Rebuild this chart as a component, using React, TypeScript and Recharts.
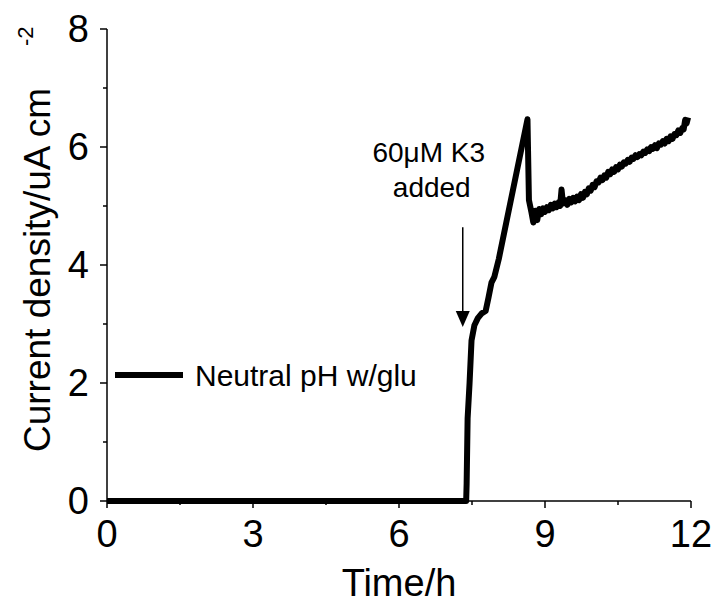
import React from 'react';
import { LineChart, Line, XAxis, YAxis, Legend, ReferenceLine } from 'recharts';

const FONT = '"Liberation Sans", Arial, sans-serif';

// time in hours
const times = [
  0, 7.38, 7.39, 7.41, 7.45, 7.49, 7.55, 7.62, 7.7, 7.78, 7.84, 7.9, 7.96, 8.05, 8.64, 8.67,
  8.72, 8.76, 8.8, 8.84, 8.88, 8.92, 8.96, 9.0, 9.04, 9.08, 9.12, 9.16, 9.2, 9.24, 9.28, 9.31,
  9.34, 9.37, 9.42, 9.46, 9.5, 9.54, 9.58, 9.62, 9.66, 9.7, 9.74, 9.78, 9.82, 9.86, 9.9,
  9.94, 9.98, 10.02, 10.06, 10.1, 10.14, 10.18, 10.22, 10.26, 10.3, 10.34, 10.38, 10.42,
  10.46, 10.5, 10.54, 10.58, 10.62, 10.66, 10.7, 10.74, 10.78, 10.82, 10.86, 10.9, 10.94,
  10.98, 11.02, 11.06, 11.1, 11.14, 11.18, 11.22, 11.26, 11.3, 11.34, 11.38, 11.42, 11.46,
  11.5, 11.54, 11.58, 11.62, 11.66, 11.7, 11.74, 11.78, 11.82, 11.85, 11.88, 11.91, 11.94,
];

// current density, uA cm-2
const current = [
  0, 0, 0.3, 1.4, 2.0, 2.72, 2.98, 3.1, 3.18, 3.22, 3.45, 3.7, 3.8, 4.1, 6.47, 5.1,
  4.9, 4.72, 4.92, 4.76, 4.95, 4.86, 4.96, 4.9, 4.98, 4.93, 5.02, 4.96, 5.04, 4.98, 5.06, 5.0,
  5.28, 5.04, 5.1, 5.02, 5.12, 5.06, 5.14, 5.08, 5.16, 5.1, 5.2, 5.14, 5.24, 5.2, 5.3,
  5.26, 5.36, 5.32, 5.42, 5.4, 5.48, 5.44, 5.52, 5.48, 5.58, 5.54, 5.62, 5.58,
  5.66, 5.62, 5.7, 5.67, 5.74, 5.72, 5.78, 5.75, 5.82, 5.8, 5.86, 5.83, 5.88,
  5.86, 5.92, 5.9, 5.96, 5.93, 6.0, 5.97, 6.03, 5.98, 6.06, 6.04, 6.1, 6.06,
  6.14, 6.1, 6.18, 6.14, 6.22, 6.2, 6.28, 6.24, 6.32, 6.3, 6.46, 6.4, 6.5,
];

const xTicks = [0, 1.5, 3, 4.5, 6, 7.5, 9, 10.5, 12];
const yTicks = [0, 1, 2, 3, 4, 5, 6, 7, 8];

const seriesName = 'Neutral pH w/glu';
const noteLines = ['60μM K3', 'added'];
// arrow from (time, value) to (time, value)
const arrowTime = 7.31;
const arrowFrom = 4.64;
const arrowTo = 2.95;

const data = times.map((t, i) => ({ t, v: current[i] }));

const YTick = ({ x, y, payload }: any) => {
  const major = payload.value % 2 === 0;
  return (
    <g>
      <line x1={x} x2={x - (major ? 7 : 4)} y1={y} y2={y} stroke="#000" strokeWidth={1.5} />
      {major && (
        <text x={x - 18} y={y + 13} textAnchor="end" fontSize={38} fontFamily={FONT} fill="#000">
          {payload.value}
        </text>
      )}
    </g>
  );
};

const XTick = ({ x, y, payload }: any) => {
  const major = payload.value % 3 === 0;
  return (
    <g>
      <line x1={x} x2={x} y1={y} y2={y + (major ? 7 : 4)} stroke="#000" strokeWidth={1.5} />
      {major && (
        <text x={x} y={y + 46} textAnchor="middle" fontSize={38} fontFamily={FONT} fill="#000">
          {payload.value}
        </text>
      )}
    </g>
  );
};

const ArrowNote = ({ x1, y1, x2, y2 }: any) => (
  <g>
    <line x1={x1} y1={y1} x2={x2} y2={y2 - 14} stroke="#000" strokeWidth={1.5} />
    <polygon points={`${x2 - 7},${y2 - 16} ${x2 + 7},${y2 - 16} ${x2},${y2}`} fill="#000" />
    <text x={x1 - 34} y={y1 - 65} textAnchor="middle" fontSize={28} fontFamily={FONT} fill="#000">
      {noteLines[0]}
    </text>
    <text x={x1 - 31} y={y1 - 30} textAnchor="middle" fontSize={28} fontFamily={FONT} fill="#000">
      {noteLines[1]}
    </text>
  </g>
);

const LegendBox = () => (
  <svg width={340} height={32}>
    <line x1={0} x2={68} y1={15} y2={15} stroke="#000" strokeWidth={6} />
    <text x={80} y={26} fontSize={30} fontFamily={FONT} fill="#000">
      {seriesName}
    </text>
  </svg>
);

const YLabel = () => (
  <g fontFamily={FONT} fill="#000">
    <text transform="translate(50,452) rotate(-90)" fontSize={37} textAnchor="start">
      Current density/uA cm
    </text>
    <text transform="translate(33,46) rotate(-90)" fontSize={22} textAnchor="start">
      -2
    </text>
  </g>
);

const XLabel = () => (
  <text x={399} y={596} textAnchor="middle" fontSize={38} fontFamily={FONT} fill="#000">
    Time/h
  </text>
);

export default function App() {
  return (
    <div style={{ position: 'absolute', left: 0, top: 0, background: '#fff' }}>
      <LineChart width={714} height={607} data={data} margin={{ top: 29, right: 23, left: 0, bottom: 0 }}>
        <XAxis
          dataKey="t"
          type="number"
          domain={[0, 12]}
          ticks={xTicks}
          interval={0}
          height={106}
          tickSize={0}
          tickMargin={0}
          tick={<XTick />}
          axisLine={{ stroke: '#000', strokeWidth: 1.5 }}
          label={{ content: () => <XLabel /> }}
        />
        <YAxis
          type="number"
          domain={[0, 8]}
          ticks={yTicks}
          interval={0}
          width={107}
          tickSize={0}
          tickMargin={0}
          tick={<YTick />}
          axisLine={{ stroke: '#000', strokeWidth: 1.5 }}
          label={{ content: () => <YLabel /> }}
        />
        <Legend
          layout="horizontal"
          verticalAlign="middle"
          align="center"
          content={() => <LegendBox />}
          wrapperStyle={{ left: 115, top: 360, width: 340, height: 32 }}
        />
        <ReferenceLine
          segment={[{ x: arrowTime, y: arrowFrom }, { x: arrowTime, y: arrowTo }]}
          shape={<ArrowNote />}
        />
        <Line
          type="linear"
          dataKey="v"
          name={seriesName}
          stroke="#000"
          strokeWidth={6}
          dot={false}
          isAnimationActive={false}
          strokeLinejoin="round"
        />
      </LineChart>
    </div>
  );
}
